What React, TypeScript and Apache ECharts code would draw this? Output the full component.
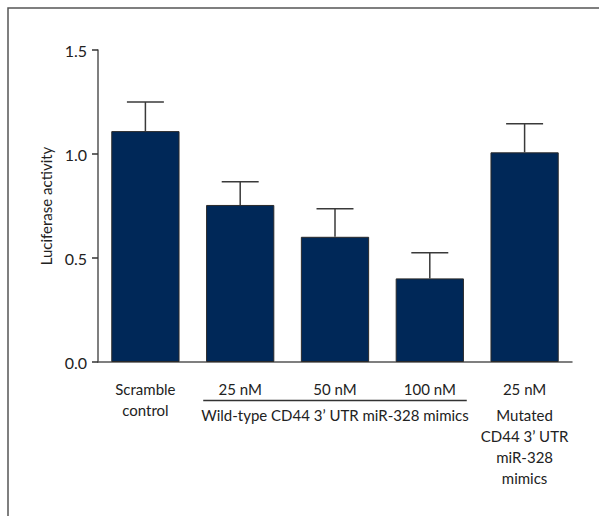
import React, { useEffect, useRef } from "react";
import * as echarts from "echarts";

const categories = ["scramble", "wt25", "wt50", "wt100", "mut25"];
const tickLabels = [
  "Scramble\ncontrol",
  "25 nM",
  "50 nM",
  "100 nM",
  "25 nM\n{sp| }\nMutated\nCD44 3\u2019 UTR\nmiR-328\nmimics",
];
const meanValues = [1.11, 0.755, 0.602, 0.402, 1.008];
const errorTops = [1.25, 0.867, 0.737, 0.525, 1.146];
const groupLabel = "Wild-type CD44 3\u2019 UTR miR-328 mimics";
const yAxisName = "Luciferase activity";
const yTicks = { min: 0, max: 1.5, interval: 0.5 };

const FONT = "Lato, Roboto, sans-serif";
const TEXT = "#222222";
const AXIS = "#555555";

export default function App() {
  const ref = useRef<HTMLDivElement>(null);
  useEffect(() => {
    document.body.style.margin = "0";
    if (!ref.current) return;
    const chart = echarts.init(ref.current, undefined, { renderer: "svg" });
    const option: any = {
      animation: false,
      backgroundColor: "#ffffff",
      grid: { left: 98, right: 27, top: 50, bottom: 154 },
      xAxis: {
        type: "category",
        data: categories,
        axisLine: { lineStyle: { color: AXIS, width: 1.5 } },
        axisTick: { alignWithLabel: true, length: 11, lineStyle: { color: "#333", width: 1.5 } },
        axisLabel: {
          interval: 0,
          margin: 16,
          fontFamily: FONT,
          fontSize: 15,
          color: TEXT,
          lineHeight: 21,
          formatter: (_v: string, i: number) => tickLabels[i],
          rich: {
            sp: { fontFamily: FONT, fontSize: 2, lineHeight: 5, color: TEXT },
          },
        },
      },
      yAxis: {
        type: "value",
        min: yTicks.min,
        max: yTicks.max,
        interval: yTicks.interval,
        splitLine: { show: false },
        name: yAxisName,
        nameLocation: "middle",
        nameRotate: 90,
        nameGap: 37,
        nameTextStyle: { fontFamily: FONT, fontSize: 15, color: TEXT },
        axisLine: { show: true, lineStyle: { color: AXIS, width: 1.5 } },
        axisTick: { show: true, length: 6, lineStyle: { color: "#333", width: 1.5 } },
        axisLabel: {
          margin: 11,
          fontFamily: FONT,
          fontSize: 16,
          color: TEXT,
          formatter: (v: number) => v.toFixed(1),
        },
      },
      series: [
        {
          type: "bar",
          data: meanValues,
          barWidth: "72%",
          itemStyle: { color: "#002858", borderColor: "#2a2a2a", borderWidth: 1 },
          z: 2,
        },
        {
          type: "custom",
          z: 3,
          data: meanValues.map((m, i) => [i, m, errorTops[i]]),
          renderItem: (_p: any, api: any) => {
            const x = api.value(0);
            const base = api.coord([x, api.value(1)]);
            const top = api.coord([x, api.value(2)]);
            const half = api.size([1, 0])[0] * 0.195;
            const style = { stroke: "#3a3a3a", lineWidth: 1.5 };
            return {
              type: "group",
              children: [
                { type: "line", shape: { x1: base[0], y1: base[1], x2: top[0], y2: top[1] }, style },
                { type: "line", shape: { x1: top[0] - half, y1: top[1], x2: top[0] + half, y2: top[1] }, style },
              ],
            };
          },
        },
      ],
    };
    chart.setOption(option);

    const p1 = chart.convertToPixel({ xAxisIndex: 0 }, categories[1]) as number;
    const p3 = chart.convertToPixel({ xAxisIndex: 0 }, categories[3]) as number;
    const band = (p3 - p1) / 2;
    const lineLeft = p1 - band * 0.39;
    const lineRight = p3 + band * 0.39;
    chart.setOption({
      graphic: [
        {
          type: "rect",
          shape: { x: 8, y: 8, width: 800, height: 800 },
          style: { fill: "none", stroke: "#555", lineWidth: 1.5 },
          silent: true,
        },
        {
          type: "line",
          shape: { x1: lineLeft, y1: 400.5, x2: lineRight, y2: 400.5 },
          style: { stroke: "#333", lineWidth: 1.5 },
        },
        {
          type: "text",
          x: (p1 + p3) / 2,
          y: 415,
          style: {
            text: groupLabel,
            fontFamily: FONT,
            fontSize: 15,
            fill: TEXT,
            align: "center",
            verticalAlign: "middle",
          },
        },
      ],
    });
    return () => chart.dispose();
  }, []);
  return <div ref={ref} style={{ width: 599, height: 516 }} />;
}
